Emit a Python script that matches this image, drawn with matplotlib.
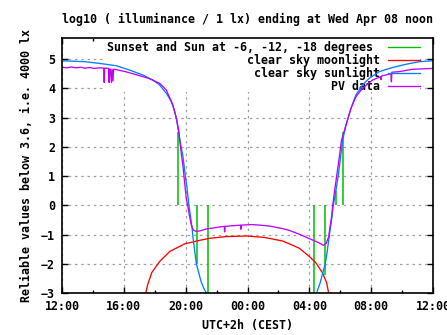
import matplotlib
matplotlib.use("Agg")
import matplotlib.pyplot as plt
from matplotlib.patches import Rectangle
from matplotlib.lines import Line2D

# ---- data (hours since 12:00 local time) ----
xtick_pos = [0, 4, 8, 12, 16, 20, 24]
xtick_labels = ["12:00", "16:00", "20:00", "00:00", "04:00", "08:00", "12:00"]
ytick_pos = [-3, -2, -1, 0, 1, 2, 3, 4, 5]

sun_h = [0.0, 1.48, 2.45, 3.53, 4.39, 5.25, 5.89, 6.32, 6.75, 7.08, 7.29, 7.40,
         7.57, 7.83, 8.00, 8.08, 8.21, 8.30, 8.41, 8.47, 8.58, 8.69, 8.86, 9.01,
         9.18, 9.34, 9.45,
         16.35, 16.47, 16.69, 16.86, 17.03, 17.14, 17.25, 17.34, 17.46, 17.55,
         17.72, 17.89, 18.05, 18.15, 18.37, 18.69, 19.01, 19.44, 19.87, 20.52,
         21.37, 22.24, 23.10, 24.0]
sun_v = [4.94, 4.91, 4.85, 4.77, 4.62, 4.45, 4.28, 4.11, 3.83, 3.54, 3.20, 2.97,
         2.40, 1.65, 0.91, 0.63, 0.00, -0.34, -0.74, -1.08, -1.54, -2.00, -2.34, -2.63,
         -2.85, -3.00, -3.2,
         -3.2, -3.00, -2.67, -2.33, -2.00, -1.65, -1.20, -0.86, -0.40, 0.00,
         0.51, 1.08, 1.77, 2.22, 2.74, 3.31, 3.77, 4.11, 4.34, 4.57,
         4.71, 4.82, 4.91, 4.94]

moon_h = [5.35, 5.42, 5.55, 5.81, 6.32, 6.97, 7.94, 8.90, 9.55, 10.63, 11.94, 13.10,
          14.26, 14.71, 15.35, 16.00, 16.43, 16.86, 17.12, 17.25, 17.30]
moon_v = [-3.2, -3.00, -2.70, -2.30, -1.92, -1.58, -1.32, -1.20, -1.13, -1.07, -1.05, -1.10,
          -1.22, -1.32, -1.47, -1.75, -1.97, -2.32, -2.65, -3.00, -3.2]

pv_h = [0.0, 0.3, 0.6, 0.9, 1.2, 1.5, 1.8, 2.1, 2.4, 2.7, 2.73, 2.76, 3.0, 3.05, 3.08,
        3.12, 3.2, 3.23, 3.3, 3.33, 3.4, 4.1, 4.9, 5.6, 6.32, 6.75, 7.18, 7.40, 7.57,
        7.61, 7.72, 7.83, 7.94, 8.04, 8.15, 8.26, 8.37, 8.47, 8.65, 8.90, 9.33, 9.98,
        10.50, 10.52, 10.55, 11.03, 11.55, 11.57, 11.60, 11.92, 12.30, 12.80, 13.42,
        14.28, 14.71, 15.35, 16.00, 16.65, 16.90, 17.08, 17.25, 17.34, 17.44, 17.50,
        17.61, 17.76, 17.94, 18.08, 18.37, 18.69, 19.01, 19.44, 20.08, 20.62, 20.64,
        20.67, 21.28, 21.31, 21.34, 21.81, 22.67, 24.0]
pv_v = [4.72, 4.70, 4.73, 4.70, 4.72, 4.69, 4.71, 4.68, 4.70, 4.69, 4.20, 4.69, 4.68, 4.20, 4.66,
        4.66, 4.20, 4.65, 4.25, 4.65, 4.65, 4.57, 4.45, 4.34, 4.17, 3.94, 3.42, 2.97, 2.51,
        2.23, 1.77, 1.31, 0.74, 0.23, -0.06, -0.40, -0.68, -0.83, -0.89, -0.88, -0.81, -0.76,
        -0.72, -0.91, -0.72, -0.70, -0.68, -0.82, -0.68, -0.67, -0.66, -0.68, -0.71,
        -0.80, -0.86, -0.99, -1.14, -1.29, -1.37, -1.31, -1.08, -0.74, -0.40, -0.06,
        0.40, 0.97, 1.65, 2.22, 2.74, 3.31, 3.71, 4.00, 4.28, 4.40, 4.30,
        4.42, 4.50, 4.22, 4.55, 4.57, 4.65, 4.68]

event_h = [7.50, 8.73, 9.46, 16.28, 16.99, 17.70, 18.21]
event_top = [2.50, -2.00, -3.00, -3.00, -2.40, 0.48, 2.50]

legend_labels = ["Sunset and Sun at -6, -12, -18 degrees", "clear sky moonlight",
                 "clear sky sunlight", "PV data"]

C_GREEN = "#00c000"
C_RED = "#ff0000"
C_BLUE = "#0080ff"
C_PURPLE = "#c000ff"

FONT = dict(family="DejaVu Sans Mono", weight="bold", size=8.4)
plt.rcParams["font.family"] = "DejaVu Sans Mono"
plt.rcParams["font.weight"] = "bold"
plt.rcParams["font.size"] = 8.4

W, H = 447, 335
fig = plt.figure(figsize=(W / 100, H / 100), dpi=100)
L, R, T, B = 62, 433, 38, 293
ax = fig.add_axes([L / W, (H - B) / H, (R - L) / W, (B - T) / H])

ax.set_xlim(0, 24)
ax.set_ylim(-3, 5.72)
ax.set_xticks(xtick_pos)
ax.set_xticklabels(xtick_labels)
ax.set_xticks([2, 6, 10, 14, 18, 22], minor=True)
ax.set_yticks(ytick_pos)
ax.tick_params(which="both", direction="in", top=True, right=True, width=1)
ax.tick_params(which="major", length=4.5, pad=5)
ax.tick_params(which="minor", length=2.2)
for s in ax.spines.values():
    s.set_linewidth(1.2)

ax.set_axisbelow(True)
ax.grid(True, which="major", color="#a0a0a0", linestyle=(0, (2, 3)), linewidth=0.9)

# key background hides grid
ax.add_patch(Rectangle((2.77, 3.87), 23.16 - 2.77, 5.72 - 3.87, facecolor="white",
                       edgecolor="none", zorder=1))

lw = 0.95
ax.vlines(event_h, 0, event_top, color=C_GREEN, linewidth=1.1, zorder=2)
ax.plot(moon_h, moon_v, color=C_RED, linewidth=lw, zorder=2.1)
ax.plot(sun_h, sun_v, color=C_BLUE, linewidth=lw, zorder=2.2)
ax.plot(pv_h, pv_v, color=C_PURPLE, linewidth=lw, zorder=2.3)

# key (gnuplot style: right-justified text, sample to the right)
colors = [C_GREEN, C_RED, C_BLUE, C_PURPLE]
rows_y = [47, 60.3, 73.3, 86.3]
text_right = [373, 380, 380, 380]
for lab, c, ry, tr in zip(legend_labels, colors, rows_y, text_right):
    ya = (B - ry) / (B - T)
    ax.text((tr - L) / (R - L), ya, lab, transform=ax.transAxes, ha="right",
            va="center", zorder=1.5, **FONT)
    ax.add_line(Line2D([(387.7 - L) / (R - L), (419.7 - L) / (R - L)], [ya, ya],
                       transform=ax.transAxes, color=c, linewidth=lw, zorder=3))

ax.set_title("log10 ( illuminance / 1 lx) ending at Wed Apr 08 noon",
             y=(B - 19) / (B - T), va="center", pad=0, **FONT)
ax.set_xlabel("UTC+2h (CEST)", **FONT)
ax.xaxis.set_label_coords(0.5, (B - 325.7) / (B - T))
ax.xaxis.label.set_va("center")
ax.set_ylabel("Reliable values below 3.6, i.e. 4000 lx", **FONT)
ax.yaxis.set_label_coords((27 - L) / (R - L), 0.5)
ax.yaxis.label.set_va("center")

fig.savefig("out.png", dpi=100)
